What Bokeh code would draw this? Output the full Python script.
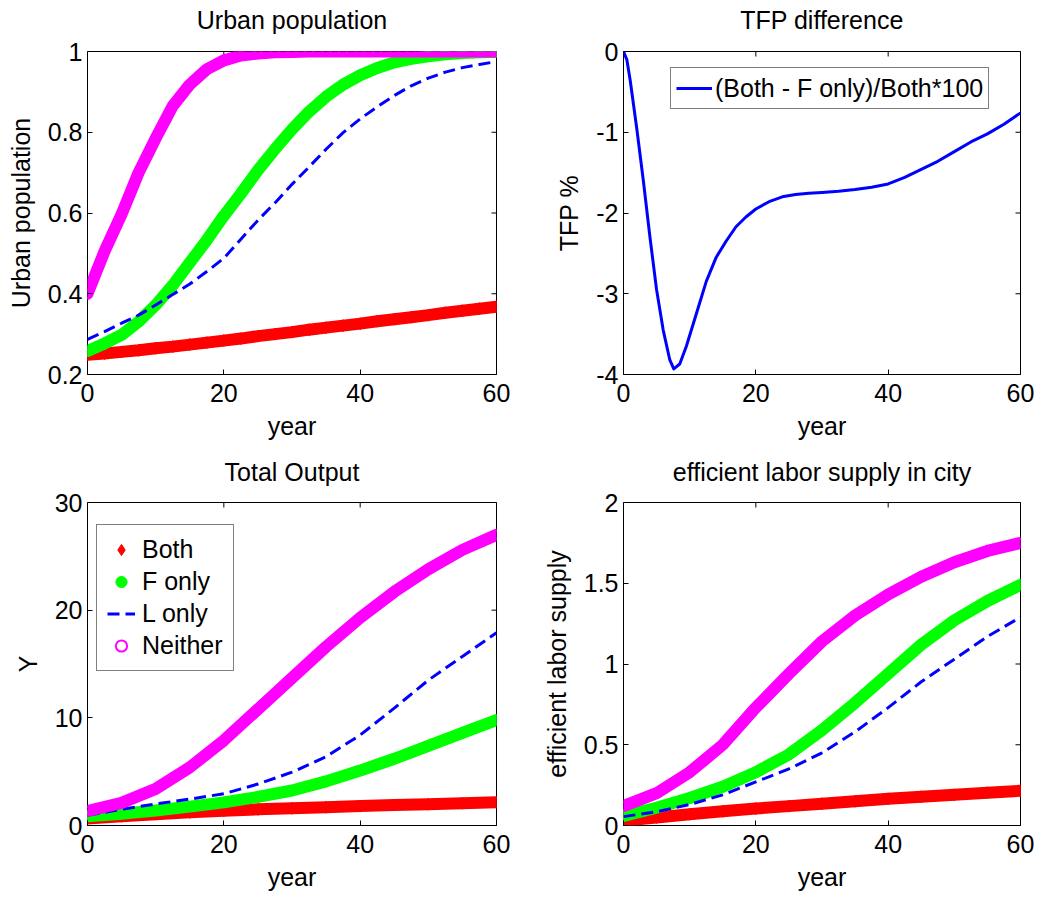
import math
from bokeh.plotting import figure
from bokeh.models import Range1d, FixedTicker, Legend, LegendItem, LinearAxis
from bokeh.layouts import column, row
from bokeh.embed import file_html
from bokeh.resources import INLINE

FONT = "Liberation Sans"
FS = "25px"

RED = "#ff0000"
GREEN = "#00ff00"
BLUE = "#0000ff"
MAGENTA = "#ff00ff"

# ---------------- data ----------------
x_ticks = [0, 20, 40, 60]

# Urban population
years_urban = [0, 2.5, 5, 7.5, 10, 12.5, 15, 17.5, 20, 22.5, 25, 27.5, 30,
               32.5, 35, 37.5, 40, 42.5, 45, 47.5, 50, 52.5, 55, 57.5, 60]
urban_both = [0.249, 0.252, 0.256, 0.260, 0.265, 0.269, 0.274, 0.279, 0.284, 0.289,
              0.295, 0.300, 0.305, 0.311, 0.316, 0.321, 0.326, 0.332, 0.337, 0.342,
              0.347, 0.353, 0.358, 0.363, 0.368]
urban_f_only = [0.258, 0.277, 0.298, 0.331, 0.372, 0.421, 0.477, 0.533, 0.593, 0.648,
                0.706, 0.758, 0.807, 0.851, 0.888, 0.918, 0.941, 0.959, 0.973, 0.982,
                0.988, 0.993, 0.996, 0.998, 0.999]
urban_l_only = [0.287, 0.306, 0.327, 0.347, 0.372, 0.398, 0.424, 0.455, 0.488, 0.535,
                0.582, 0.625, 0.671, 0.714, 0.758, 0.799, 0.833, 0.863, 0.891, 0.915,
                0.934, 0.949, 0.960, 0.968, 0.975]
urban_neither = [0.400, 0.505, 0.597, 0.700, 0.785, 0.865, 0.918, 0.956, 0.978, 0.990,
                 0.995, 0.998, 0.999, 1.0, 1.0, 1.0, 1.0, 1.0, 1.0, 1.0,
                 1.0, 1.0, 1.0, 1.0, 1.0]
urban_yticks = [0.2, 0.4, 0.6, 0.8, 1.0]
urban_ylabels = ["0.2", "0.4", "0.6", "0.8", "1"]

# TFP difference
years_tfp = [0, 0.5, 1, 2, 3, 4, 5, 6, 7, 7.6, 8.5, 9.5, 11, 12.5, 14, 15.5, 17, 18.5,
             20, 22, 24, 26, 28, 30, 32.5, 35, 37.5, 40, 42.5, 45, 47.5, 50, 52.5,
             55, 57.5, 60]
tfp_diff = [0, -0.1, -0.35, -0.95, -1.6, -2.3, -2.95, -3.45, -3.82, -3.93, -3.87,
            -3.65, -3.25, -2.85, -2.55, -2.35, -2.17, -2.05, -1.95, -1.86, -1.80,
            -1.77, -1.755, -1.745, -1.73, -1.71, -1.68, -1.64, -1.56, -1.46, -1.36,
            -1.24, -1.12, -1.02, -0.9, -0.76]
tfp_yticks = [-4, -3, -2, -1, 0]
tfp_ylabels = ["-4", "-3", "-2", "-1", "0"]

# Total output and efficient labor supply
years5 = [0, 5, 10, 15, 20, 25, 30, 35, 40, 45, 50, 55, 60]
out_both = [0.65, 0.85, 1.05, 1.22, 1.38, 1.5, 1.6, 1.7, 1.8, 1.9, 1.98, 2.07, 2.15]
out_f_only = [0.85, 1.1, 1.4, 1.75, 2.15, 2.65, 3.25, 4.1, 5.1, 6.2, 7.4, 8.6, 9.8]
out_l_only = [0.95, 1.5, 2.0, 2.45, 2.95, 3.85, 4.95, 6.4, 8.4, 10.9, 13.5, 15.7, 17.9]
out_neither = [1.35, 2.1, 3.4, 5.4, 7.9, 10.8, 13.7, 16.6, 19.3, 21.7, 23.8, 25.6, 27.0]
out_yticks = [0, 10, 20, 30]
out_ylabels = ["0", "10", "20", "30"]

lab_both = [0.03, 0.05, 0.07, 0.088, 0.105, 0.12, 0.135, 0.15, 0.165, 0.178, 0.19, 0.203, 0.215]
lab_f_only = [0.06, 0.11, 0.17, 0.24, 0.33, 0.44, 0.59, 0.76, 0.94, 1.12, 1.27, 1.39, 1.49]
lab_l_only = [0.055, 0.085, 0.13, 0.19, 0.27, 0.35, 0.45, 0.58, 0.73, 0.89, 1.03, 1.17, 1.29]
lab_neither = [0.12, 0.2, 0.33, 0.5, 0.73, 0.94, 1.14, 1.3, 1.43, 1.54, 1.63, 1.70, 1.75]
lab_yticks = [0, 0.5, 1.0, 1.5, 2.0]
lab_ylabels = ["0", "0.5", "1", "1.5", "2"]

series_names = ["Both", "F only", "L only", "Neither"]


def style_text_axis(ax):
    ax.axis_line_color = None
    ax.major_tick_in = 5
    ax.major_tick_out = 0
    ax.major_tick_line_color = "black"
    ax.minor_tick_line_color = None
    ax.major_label_text_font = FONT
    ax.major_label_text_font_size = FS
    ax.major_label_text_color = "black"
    ax.axis_label_text_font = FONT
    ax.axis_label_text_font_size = FS
    ax.axis_label_text_font_style = "normal"
    ax.axis_label_text_color = "black"


def make_fig(w, h, left, right, top, bottom, yr, yticks, ylabels, title, ylabel, title_gap):
    p = figure(width=w, height=h, x_range=Range1d(0, 60), y_range=Range1d(*yr),
               output_backend="svg", toolbar_location=None,
               min_border_left=left, min_border_right=right,
               min_border_top=top, min_border_bottom=bottom)
    p.background_fill_color = "white"
    p.border_fill_color = "white"
    p.outline_line_color = "black"
    p.outline_line_width = 1
    p.grid.visible = False
    for ax in (p.xaxis[0], p.yaxis[0]):
        style_text_axis(ax)
    p.xaxis[0].ticker = FixedTicker(ticks=x_ticks)
    p.xaxis[0].axis_label = "year"
    p.xaxis[0].major_label_standoff = 9
    p.xaxis[0].axis_label_standoff = 7
    p.yaxis[0].ticker = FixedTicker(ticks=yticks)
    p.yaxis[0].major_label_overrides = {t: l for t, l in zip(yticks, ylabels)}
    p.yaxis[0].axis_label = ylabel
    p.yaxis[0].major_label_standoff = 5
    p.yaxis[0].axis_label_standoff = 10
    # title: the label of a tick-less axis above the box
    title_ax = LinearAxis(ticker=FixedTicker(ticks=[]), axis_label=title)
    style_text_axis(title_ax)
    title_ax.major_tick_in = 0
    title_ax.major_label_standoff = 0
    title_ax.axis_label_standoff = title_gap
    p.add_layout(title_ax, "above")
    # inside tick marks on the top and right edges of the box (half clipped by the frame)
    p.scatter(x_ticks, [yr[1]] * len(x_ticks), marker="dash", angle=math.pi / 2,
              size=10, line_color="black", line_width=1)
    p.scatter([60] * len(yticks), yticks, marker="dash", angle=0,
              size=10, line_color="black", line_width=1)
    return p


def draw_four(p, xs, both, f_only, l_only, neither):
    band = 12
    p.line(xs, both, line_color=RED, line_width=band, line_cap="round", line_join="round")
    r_both = p.scatter(xs, both, marker="diamond", size=12,
                       fill_color=RED, line_color=RED)
    p.line(xs, f_only, line_color=GREEN, line_width=band, line_cap="round", line_join="round")
    r_f = p.scatter(xs, f_only, marker="circle", size=10, fill_color=GREEN, line_color=GREEN)
    r_l = p.line(xs, l_only, line_color=BLUE, line_width=3, line_dash="12 6")
    p.line(xs, neither, line_color=MAGENTA, line_width=band, line_cap="round", line_join="round")
    r_n = p.scatter(xs, neither, marker="circle", size=8, fill_color=None,
                    line_color=MAGENTA, line_width=2)
    return [r_both, r_f, r_l, r_n]


# Panel 1: Urban population
p1 = make_fig(520, 450, 87, 24, 51, 76, (0.2, 1.0), urban_yticks, urban_ylabels,
              "Urban population", "Urban population", 18)
draw_four(p1, years_urban, urban_both, urban_f_only, urban_l_only, urban_neither)

# Panel 2: TFP difference
p2 = make_fig(538, 450, 103, 38, 51, 76, (-4, 0), tfp_yticks, tfp_ylabels,
              "TFP difference", "TFP %", 18)
r_tfp = p2.line(years_tfp, tfp_diff, line_color=BLUE, line_width=3, line_join="round")
leg2 = Legend(items=[LegendItem(label="(Both - F only)/Both*100", renderers=[r_tfp])],
              location=(47, 265), glyph_width=36, glyph_height=30, label_standoff=3,
              padding=5, margin=0, spacing=0, border_line_color="black",
              border_line_width=1, background_fill_color="white", background_fill_alpha=1,
              label_text_font=FONT, label_text_font_size=FS, label_text_color="black")
p2.add_layout(leg2)

# Panel 3: Total Output
p3 = make_fig(520, 447, 87, 24, 52, 72, (0, 30), out_yticks, out_ylabels,
              "Total Output", "Y", 17)
rs3 = draw_four(p3, years5, out_both, out_f_only, out_l_only, out_neither)
leg3 = Legend(items=[LegendItem(label=n, renderers=[r]) for n, r in zip(series_names, rs3)],
              location=(9, 154), glyph_width=28, glyph_height=29, label_standoff=7,
              padding=10, margin=0, spacing=3, border_line_color="black",
              border_line_width=1, background_fill_color="white", background_fill_alpha=1,
              label_text_font=FONT, label_text_font_size=FS, label_text_color="black")
p3.add_layout(leg3)

# Panel 4: efficient labor supply in city
p4 = make_fig(538, 447, 103, 38, 52, 72, (0, 2), lab_yticks, lab_ylabels,
              "efficient labor supply in city", "efficient labor supply", 17)
draw_four(p4, years5, lab_both, lab_f_only, lab_l_only, lab_neither)

layout = column(row(p1, p2, spacing=0), row(p3, p4, spacing=0), spacing=0)

open("out.html", "w").write(file_html(layout, INLINE))
